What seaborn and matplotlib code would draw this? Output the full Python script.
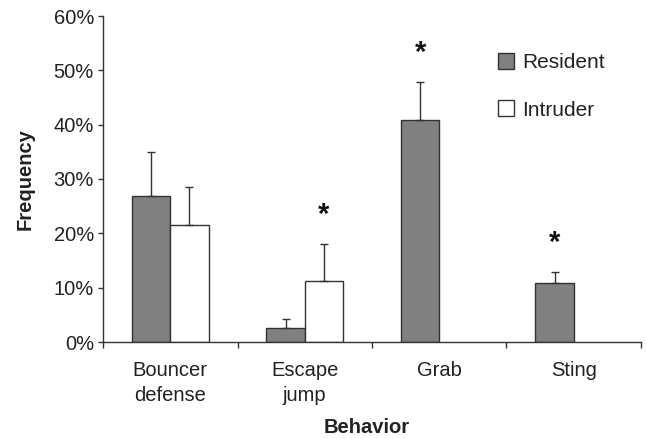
import matplotlib
matplotlib.use("Agg")
import matplotlib.pyplot as plt
from matplotlib.patches import Patch
import seaborn as sns
import pandas as pd

# ---- data ----
behaviors = ["Bouncer\ndefense", "Escape\njump", "Grab", "Sting"]
groups = ["Resident", "Intruder"]
resident_freq = [26.9, 2.5, 40.8, 10.8]
intruder_freq = [21.6, 11.2, 0.0, 0.0]
resident_err = [8.0, 1.7, 7.1, 2.1]
intruder_err = [6.9, 6.9, 0.0, 0.0]
significant = [("Escape\njump", "Intruder"), ("Grab", "Resident"), ("Sting", "Resident")]
y_ticks = [0, 10, 20, 30, 40, 50, 60]
y_ticklabels = ["0%", "10%", "20%", "30%", "40%", "50%", "60%"]

df = pd.DataFrame({
    "Behavior": behaviors * 2,
    "Group": [groups[0]] * 4 + [groups[1]] * 4,
    "Frequency": resident_freq + intruder_freq,
})
errs = {groups[0]: resident_err, groups[1]: intruder_err}

sns.set_style("ticks")
plt.rcParams["font.family"] = ["Liberation Sans", "DejaVu Sans"]

colors = {"Resident": "#808080", "Intruder": "#ffffff"}
edge = "#333333"
txt = "#222222"

fig = plt.figure(figsize=(6.46, 4.38), dpi=100)
ax = fig.add_axes([103 / 646, 1 - 342 / 438, 538 / 646, 326 / 438])

sns.barplot(data=df, x="Behavior", y="Frequency", hue="Group", order=behaviors,
            hue_order=groups, palette=colors, width=0.57, gap=0,
            edgecolor=edge, linewidth=1.0, errorbar=None, ax=ax, legend=False)

# error bars (upper only) and significance asterisks
for gi, g in enumerate(groups):
    cont = ax.containers[gi]
    for bi, bar in enumerate(cont.patches):
        e = errs[g][bi]
        xc = bar.get_x() + bar.get_width() / 2
        h = bar.get_height()
        if h == 0:
            bar.set_linewidth(0)
        if e > 0:
            ax.errorbar([xc], [h], yerr=[[0], [e]], fmt="none", ecolor=edge,
                        elinewidth=1.0, capsize=3, capthick=1.0, zorder=1)
        if (behaviors[bi], g) in significant:
            ax.text(xc, h + e + 3.8, "*", ha="center", va="baseline",
                    fontsize=21, fontweight="bold", color="#111111")

ax.set_xlim(-0.5, 3.5)
ax.set_ylim(0, 60)
ax.set_yticks(y_ticks)
ax.set_yticklabels(y_ticklabels)
ax.set_xticks(range(len(behaviors)))
ax.set_xticklabels(behaviors, linespacing=1.4)
ax.set_xticks([-0.5, 0.5, 1.5, 2.5, 3.5], minor=True)
ax.tick_params(axis="x", which="major", length=0, pad=14, labelsize=14.5, labelcolor=txt)
ax.tick_params(axis="x", which="minor", length=4, width=1, color=edge, direction="out")
ax.tick_params(axis="y", length=3.5, width=1, pad=3, labelsize=14.5, color=edge, labelcolor=txt)

for s in ["top", "right"]:
    ax.spines[s].set_visible(False)
for s in ["left", "bottom"]:
    ax.spines[s].set_color(edge)
    ax.spines[s].set_linewidth(1.0)

ax.set_ylabel("Frequency", fontsize=14.5, fontweight="bold", color=txt)
ax.set_xlabel("Behavior", fontsize=14.5, fontweight="bold", color=txt)
ax.yaxis.set_label_coords(-0.127, 0.5)
ax.xaxis.set_label_coords(0.49, -0.232)

handles = [Patch(facecolor=colors[g], edgecolor=edge, linewidth=1.0) for g in groups]
ax.legend(handles, groups, loc="upper left", bbox_to_anchor=(498 / 646, 1 - 53 / 438),
          bbox_transform=fig.transFigure, frameon=False, fontsize=15,
          handlelength=0.78, handleheight=0.78, handletextpad=0.38,
          labelspacing=1.36, borderpad=0, borderaxespad=0, labelcolor=txt)

fig.savefig("out.png", dpi=100)
